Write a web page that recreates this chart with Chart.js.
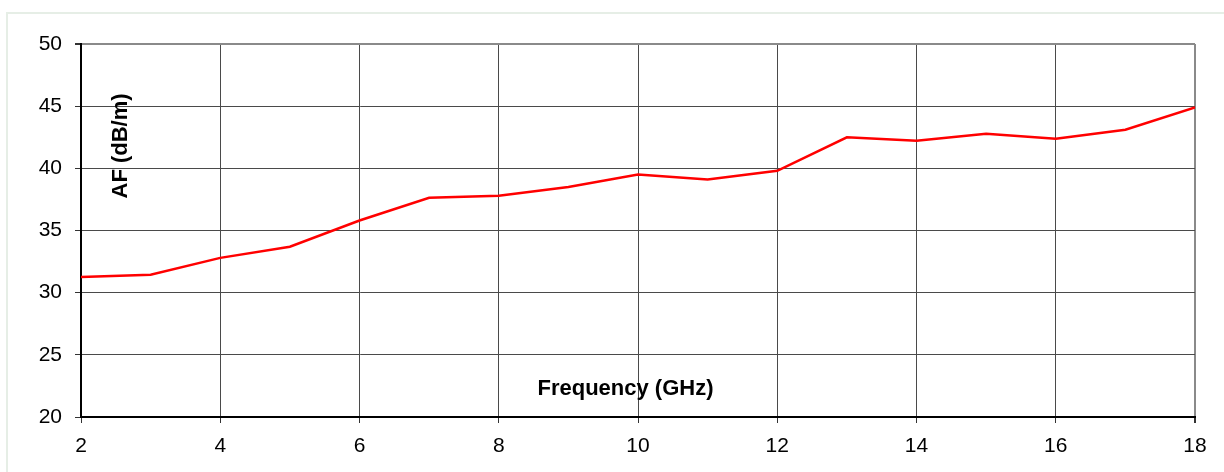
<!DOCTYPE html>
<html>
<head>
<meta charset="utf-8">
<script src="https://cdn.jsdelivr.net/npm/chart.js@4/dist/chart.umd.min.js"></script>
<style>
  html, body { margin: 0; padding: 0; background: #fff; overflow: hidden; }
  #wrap { position: relative; width: 1224px; height: 472px; }
  #frame { position: absolute; left: 6px; top: 12px; right: -10px; bottom: -10px; border: 2px solid #e6eee6; }
  #chart { position: absolute; left: 0; top: 0; }
</style>
</head>
<body>
<div id="wrap">
  <div id="frame"></div>
  <canvas id="chart" width="1224" height="472"></canvas>
</div>
<script>
// frequency in GHz and antenna factor in dB/m
const freqGHz = [2, 3, 4, 5, 6, 7, 8, 9, 10, 11, 12, 13, 14, 15, 16, 17, 18];
const antennaFactor = [31.25, 31.45, 32.8, 33.7, 35.8, 37.63, 37.8, 38.5, 39.5, 39.1, 39.8, 42.5, 42.22, 42.78, 42.38, 43.1, 44.9];
const xTicks = [2, 4, 6, 8, 10, 12, 14, 16, 18];
const yTicks = [20, 25, 30, 35, 40, 45, 50];
const yTitle = 'AF (dB/m)';
const xTitle = 'Frequency (GHz)';

const tickFont = { family: '"Liberation Sans", Arial, sans-serif', size: 21 };
const titleFont = 'bold 22px "Liberation Sans", Arial, sans-serif';

// axis titles sit inside the plot area, as in the original
const innerTitles = {
  id: 'innerTitles',
  afterDraw(chart) {
    const { ctx, scales } = chart;
    ctx.save();
    ctx.fillStyle = '#000';
    ctx.font = titleFont;
    ctx.textAlign = 'center';
    ctx.textBaseline = 'middle';
    ctx.fillText(xTitle, scales.x.getPixelForValue(9.82), scales.y.getPixelForValue(22.25));
    ctx.translate(scales.x.getPixelForValue(2.58), scales.y.getPixelForValue(41.8));
    ctx.rotate(-Math.PI / 2);
    ctx.fillText(yTitle, 0, 0);
    ctx.restore();
  },
};

new Chart(document.getElementById('chart'), {
  type: 'line',
  data: {
    datasets: [{
      data: freqGHz.map((f, i) => ({ x: f, y: antennaFactor[i] })),
      borderColor: '#ff0000',
      borderWidth: 2.5,
      pointRadius: 0,
      tension: 0,
      fill: false,
    }],
  },
  options: {
    responsive: false,
    animation: false,
    devicePixelRatio: 1,
    layout: { padding: { top: 44, right: 29, left: 0, bottom: 0 } },
    plugins: { legend: { display: false }, tooltip: { enabled: false } },
    scales: {
      x: {
        type: 'linear',
        min: 2,
        max: 18,
        afterFit: (s) => { s.height = 55; },
        afterBuildTicks: (s) => { s.ticks = xTicks.map((v) => ({ value: v })); },
        border: { color: '#000', width: 2 },
        grid: {
          color: (c) => (c.tick && c.tick.value === 18 ? '#8a8a8a' : '#4a4a4a'),
          lineWidth: (c) => (c.tick && c.tick.value === 18 ? 2 : 1),
          tickColor: '#333',
          tickLength: 6,
        },
        ticks: { color: '#000', font: tickFont, padding: 11, maxRotation: 0 },
      },
      y: {
        min: 20,
        max: 50,
        afterFit: (s) => { s.width = 81; },
        afterBuildTicks: (s) => { s.ticks = yTicks.map((v) => ({ value: v })); },
        border: { color: '#000', width: 2 },
        grid: {
          color: (c) => (c.tick && c.tick.value === 50 ? '#8a8a8a' : '#4a4a4a'),
          lineWidth: (c) => (c.tick && c.tick.value === 50 ? 2 : 1),
          tickColor: '#333',
          tickLength: 6,
        },
        ticks: { color: '#000', font: tickFont, padding: 13 },
      },
    },
  },
  plugins: [innerTitles],
});
</script>
</body>
</html>
